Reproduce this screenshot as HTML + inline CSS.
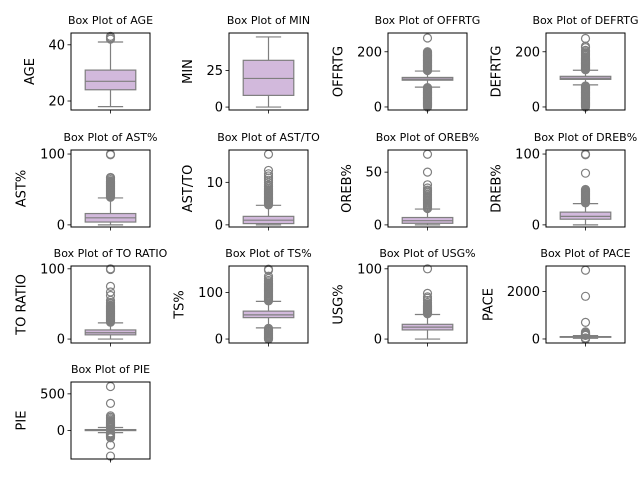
<!DOCTYPE html>
<html><head><meta charset="utf-8"><style>
body{margin:0;background:#fff}
svg{display:block;font-family:"DejaVu Sans","Liberation Sans",sans-serif}
</style></head><body>
<svg id="fig" width="640" height="480"></svg>
<script>
const names=["AGE","MIN","OFFRTG","DEFRTG","AST%","AST/TO","OREB%","DREB%","TO RATIO","TS%","USG%","PACE","PIE"];
const ylims=[[16.8,44.2],[-2,50.7],[-11,268],[-11,268],[-3,105.7],[-0.5,17.6],[-2,71],[-3,105.7],[-5.6,104],[-8.5,157],[-5.6,104],[-170,3080],[-390,662]];
const ticks=[[20,40],[0,25],[0,200],[0,200],[0,100],[0,10],[0,50],[0,100],[0,100],[0,100],[0,100],[0,2000],[0,500]];
const wlo=[18,0,72,80,0,0,0,0,0,24,0,30,-30];
const q1=[24,8,97,100,4,0.3,1.5,8,6,46,13,70,-2];
const med=[27,19.6,101,104,10,1.1,4,12,9,52,17,85,3];
const q3=[31,32,107,111,16,2,7,18,13,60,21,100,12];
const whi=[41,48,130,133,38,4.6,15,30,23,81,35,140,40];
const outliers=[
[42,42.5,43],
[],
[132,134,136,138,140,142,144,146,148,150,152,154,156,158,160,162,164,166,168,170,172,174,176,178,180,182,184,186,188,190,192,194,196,198,200,250,70,68,66,64,62,60,58,56,54,52,50,48,46,44,42,40,38,36,34,32,30,28,26,24,22,20,18,16,14,12,10,8,6,4,2,0],
[135,137,139,141,143,145,147,149,151,153,155,157,159,161,163,165,167,169,171,173,175,180,185,190,195,200,205,215,220,248,76,74,72,70,68,66,64,62,60,58,56,54,52,50,48,46,44,42,40,38,36,34,32,30,28,26,24,22,20,18,16,14,12,10,8,6,4,2,0],
[39,40,41,42,43,44,45,46,47,48,49,50,51,52,53,54,55,56,57,58,59,60,61,62,64,66,67,99,100],
[4.7,4.9,5.1,5.3,5.5,5.7,5.9,6.1,6.3,6.5,6.7,6.9,7.1,7.3,7.5,7.7,7.9,8.1,8.3,8.6,9,9.4,10,10.5,11,11.5,12,12.8,16.6],
[15.5,16.5,17.5,18.5,19.5,20.5,21.5,22.5,23.5,24.5,25.5,26.5,27.5,29,30.5,32,33,35,38,50,67],
[31,32,33,34,35,36,37,38,39,40,41,42,43,44,45,46,47,48,49,50,73,99,100],
[24,25,26,27,28,29,30,31,32,33,34,35,36,37,38,39,40,41,42,43,44,45,46,47,48,50,52,55,62,67,75,99,100],
[82,84,86,88,90,92,94,96,98,100,102,104,106,108,110,112,114,116,118,120,123,126,130,135,148,150,23,21,19,17,15,13,11,9,7,5,3,1,0],
[36,37,38,39,40,41,42,43,44,45,46,47,48,50,52,55,58,60,65,100],
[0,10,20,30,40,150,160,170,180,190,200,210,220,230,250,270,300,700,1800,2900],
[42,48,55,62,70,78,86,95,105,115,125,140,160,180,200,370,600,-32,-38,-44,-50,-56,-62,-68,-75,-85,-100,-200,-350]
];
const colX=[71,229,388,546], rowY=[33,150,266,382], AW=79, AH=77;
const NS="http://www.w3.org/2000/svg";
const svg=document.getElementById('fig');
function mk(tag,attrs,parent){const e=document.createElementNS(NS,tag);for(const k in attrs)e.setAttribute(k,attrs[k]);(parent||svg).appendChild(e);return e;}
names.forEach((nm,i)=>{
  const x0=colX[i%4], y0=rowY[Math.floor(i/4)];
  const [lo,hi]=ylims[i];
  const ys=v=>y0+AH-(v-lo)/(hi-lo)*AH;
  const g=mk('g',{});
  
  
  const cx=x0+AW/2, bw=AW*0.8*0.8;
  const wl=mk('line',{x1:cx,x2:cx,y1:ys(q1[i]),y2:ys(wlo[i]),stroke:'#7f7f7f','stroke-width':1.2},g);
  
  const wh=mk('line',{x1:cx,x2:cx,y1:ys(q3[i]),y2:ys(whi[i]),stroke:'#7f7f7f','stroke-width':1.2},g);
  
  [wlo[i],whi[i]].forEach(v=>{const c=mk('line',{x1:cx-bw/4,x2:cx+bw/4,y1:ys(v),y2:ys(v),stroke:'#7f7f7f','stroke-width':1.2},g);
    });
  const box=mk('rect',{x:cx-bw/2,y:ys(q3[i]),width:bw,height:Math.max(ys(q1[i])-ys(q3[i]),0.5),fill:'#d2b9dc',stroke:'#7f7f7f','stroke-width':1.2},g);
  
  const m=mk('line',{x1:cx-bw/2,x2:cx+bw/2,y1:ys(med[i]),y2:ys(med[i]),stroke:'#7f7f7f','stroke-width':1.2},g);
  
  outliers[i].forEach(v=>{const c=mk('circle',{cx:cx,cy:ys(v),r:4,fill:'none',stroke:'#7f7f7f','stroke-width':1.2},g);
    });
  const fr=mk('rect',{x:x0,y:y0,width:AW,height:AH,fill:'none',stroke:'#000','stroke-width':1},g);
  
  let maxw=0;
  ticks[i].forEach(t=>{const y=ys(t);
    const tl=mk('line',{x1:x0-3.5,x2:x0,y1:y,y2:y,stroke:'#000','stroke-width':0.8},g);
    
    const tx=mk('text',{x:x0-6,y:y+4.5,'text-anchor':'end','font-size':13,fill:'#000'},g);
    tx.textContent=String(t);
    
    maxw=Math.max(maxw,String(t).length*8.3);});
  const xt=mk('line',{x1:cx,x2:cx,y1:y0+AH,y2:y0+AH+3.5,stroke:'#000','stroke-width':0.8},g);
  
  const lx=x0-6-maxw-19;
  const yl=mk('text',{x:lx,y:y0+AH/2,'text-anchor':'middle','font-size':13,fill:'#000',transform:`rotate(-90 ${lx} ${y0+AH/2})`,dy:'0.35em'},g);
  yl.textContent=nm;
  
  const ti=mk('text',{x:cx,y:y0-9,'text-anchor':'middle','font-size':11,fill:'#000'},g);
  ti.textContent='Box Plot of '+nm;
  
});
</script>
</body></html>
